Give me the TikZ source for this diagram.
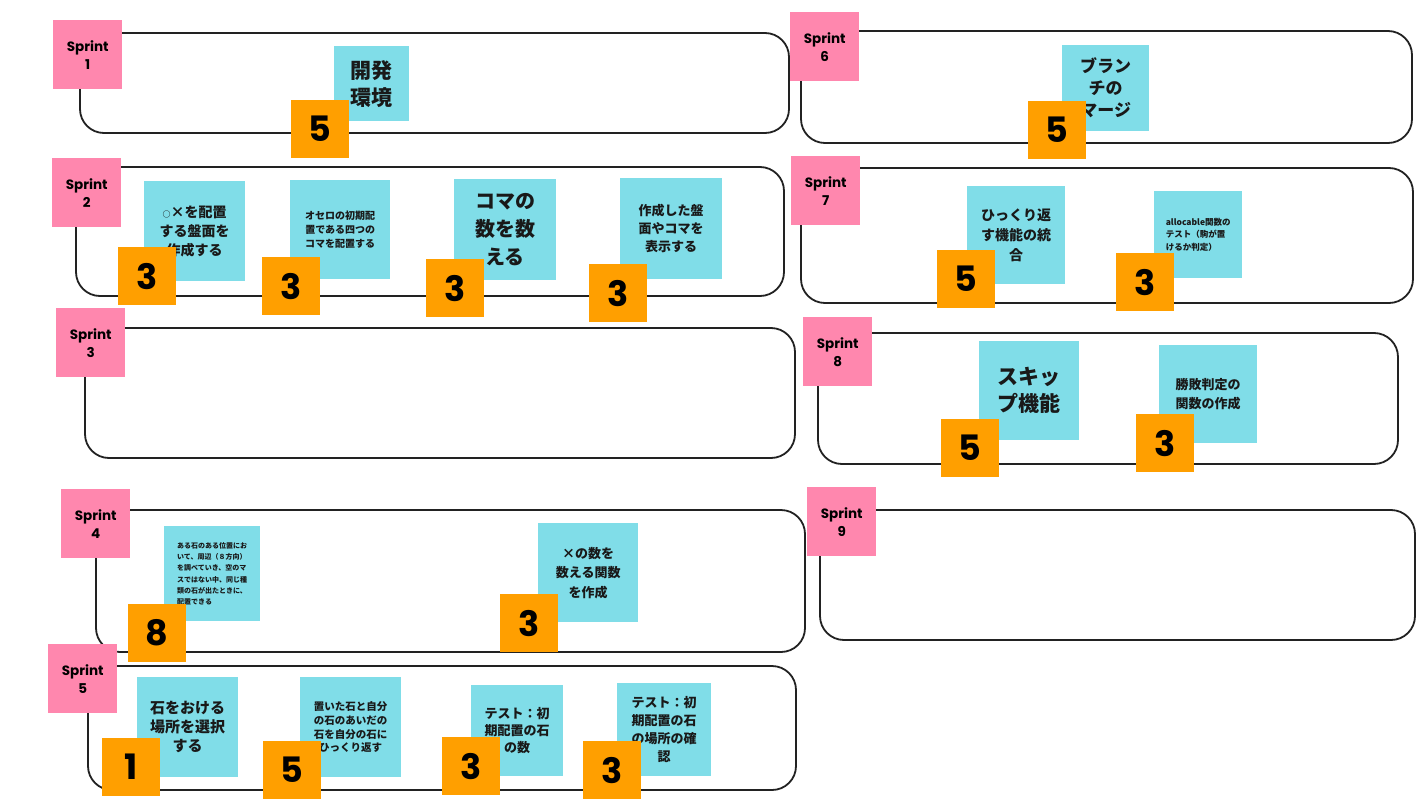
\documentclass[tikz,border=0pt]{standalone}
\usepackage{fontspec}
\newfontfamily\jp{Noto Sans CJK JP}[BoldFont={Noto Sans CJK JP Black}]
\newfontfamily\pop{Poppins}[BoldFont={Poppins Bold}]
\definecolor{pinkc}{HTML}{FF87AE}
\definecolor{bluec}{HTML}{80DDE8}
\definecolor{orangec}{HTML}{FF9F00}
\definecolor{linec}{HTML}{222222}
\begin{document}
\begin{tikzpicture}[x=1pt,y=-1pt,
  lane/.style={draw=linec, line width=1.8pt, rounded corners=24pt},
  sprintbox/.style={fill=pinkc, minimum width=69pt, minimum height=69pt, anchor=north west, inner sep=0pt, align=center, font=\pop\bfseries\fontsize{13.5}{18}\selectfont, text=black},
  notebox/.style={fill=bluec, anchor=north west, inner sep=0pt, align=center, text=black!90},
  estbox/.style={fill=orangec, minimum width=58pt, minimum height=58pt, anchor=north west, inner sep=0pt, font=\pop\bfseries\fontsize{35}{35}\selectfont, text=black}]
\useasboundingbox[fill=white] (0,0) rectangle (1422,800);
% lanes
\draw[lane] (80,33) rectangle (789,133);
\draw[lane] (76,167) rectangle (784,296);
\draw[lane] (85,328) rectangle (795,458);
\draw[lane] (96,510) rectangle (805,652);
\draw[lane] (88,666) rectangle (796,790);
\draw[lane] (801,31) rectangle (1412,143);
\draw[lane] (801,168) rectangle (1413,303);
\draw[lane] (818,333) rectangle (1398,464);
\draw[lane] (820,510) rectangle (1415,640);
% sprint labels
\node[sprintbox] (s1) at (53,20) {Sprint\\1};
\node[sprintbox] (s2) at (52,158) {Sprint\\2};
\node[sprintbox] (s3) at (56,308) {Sprint\\3};
\node[sprintbox] (s4) at (61,489) {Sprint\\4};
\node[sprintbox] (s5) at (48,644) {Sprint\\5};
\node[sprintbox] (s6) at (790,12) {Sprint\\6};
\node[sprintbox] (s7) at (791,156) {Sprint\\7};
\node[sprintbox] (s8) at (803,317) {Sprint\\8};
\node[sprintbox] (s9) at (807,487) {Sprint\\9};
% notes
\node[notebox, minimum width=75pt, minimum height=75pt, font=\jp\bfseries\fontsize{21}{27}\selectfont] (n1) at (334,46) {開発\\環境};
\node[notebox, minimum width=101pt, minimum height=100pt, font=\jp\bfseries\fontsize{14}{19}\selectfont] (n2a) at (144,181) {{\fontsize{8}{8}\selectfont ○}×を配置\\する盤面を\\作成する};
\node[notebox, minimum width=100pt, minimum height=99pt, font=\jp\bfseries\fontsize{10}{14}\selectfont] (n2b) at (290,180) {オセロの初期配\\置である四つの\\コマを配置する};
\node[notebox, minimum width=102pt, minimum height=101pt, font=\jp\bfseries\fontsize{20}{28}\selectfont] (n2c) at (454,179) {コマの\\数を数\\える};
\node[notebox, minimum width=102pt, minimum height=101pt, font=\jp\bfseries\fontsize{13}{18}\selectfont] (n2d) at (620,178) {作成した盤\\面やコマを\\表示する};
\node[notebox, minimum width=96pt, minimum height=95pt, align=left, font=\jp\bfseries\fontsize{7}{11.3}\selectfont] (n4a) at (164,526) {ある石のある位置にお\\いて、周辺（８方向）\\を調べていき、空のマ\\スではない中、同じ種\\類の石が出たときに、\\配置できる};
\node[notebox, minimum width=100pt, minimum height=99pt, font=\jp\bfseries\fontsize{13}{19.5}\selectfont] (n4b) at (538,523) {×の数を\\数える関数\\を作成};
\node[notebox, minimum width=101pt, minimum height=100pt, font=\jp\bfseries\fontsize{15}{19}\selectfont] (n5a) at (137,677) {石をおける\\場所を選択\\する};
\node[notebox, minimum width=101pt, minimum height=100pt, font=\jp\bfseries\fontsize{10.5}{13.7}\selectfont] (n5b) at (300,677) {置いた石と自分\\の石のあいだの\\石を自分の石に\\ひっくり返す};
\node[notebox, minimum width=92pt, minimum height=91pt, font=\jp\bfseries\fontsize{13}{17}\selectfont] (n5c) at (471,685) {テスト：初\\期配置の石\\の数};
\node[notebox, minimum width=94pt, minimum height=93pt, font=\jp\bfseries\fontsize{13}{18}\selectfont] (n5d) at (617,683) {テスト：初\\期配置の石\\の場所の確\\認};
\node[notebox, minimum width=87pt, minimum height=86pt, font=\jp\bfseries\fontsize{17}{22}\selectfont] (n6) at (1062,45) {ブラン\\チの\\マージ};
\node[notebox, minimum width=98pt, minimum height=98pt, font=\jp\bfseries\fontsize{14}{20}\selectfont] (n7a) at (967,186) {ひっくり返\\す機能の統\\合};
\node[notebox, minimum width=88pt, minimum height=87pt, align=left, font=\jp\bfseries\fontsize{8.5}{12.5}\selectfont] (n7b) at (1154,191) {allocable関数の\\テスト（駒が置\\けるか判定）};
\node[notebox, minimum width=100pt, minimum height=99pt, font=\jp\bfseries\fontsize{21}{27}\selectfont] (n8a) at (979,341) {スキッ\\プ機能};
\node[notebox, minimum width=98pt, minimum height=98pt, font=\jp\bfseries\fontsize{13}{19}\selectfont] (n8b) at (1159,345) {勝敗判定の\\関数の作成};
% estimates
\node[estbox] (e1) at (291,100) {5};
\node[estbox] (e2a) at (118,247) {3};
\node[estbox] (e2b) at (262,257) {3};
\node[estbox] (e2c) at (426,259) {3};
\node[estbox] (e2d) at (589,264) {3};
\node[estbox] (e4a) at (128,604) {8};
\node[estbox] (e4b) at (500,594) {3};
\node[estbox] (e5a) at (102,738) {1};
\node[estbox] (e5b) at (263,741) {5};
\node[estbox] (e5c) at (442,737) {3};
\node[estbox] (e5d) at (583,741) {3};
\node[estbox] (e6) at (1028,101) {5};
\node[estbox] (e7a) at (937,250) {5};
\node[estbox] (e7b) at (1116,253) {3};
\node[estbox] (e8a) at (941,419) {5};
\node[estbox] (e8b) at (1136,414) {3};
\end{tikzpicture}
\end{document}
